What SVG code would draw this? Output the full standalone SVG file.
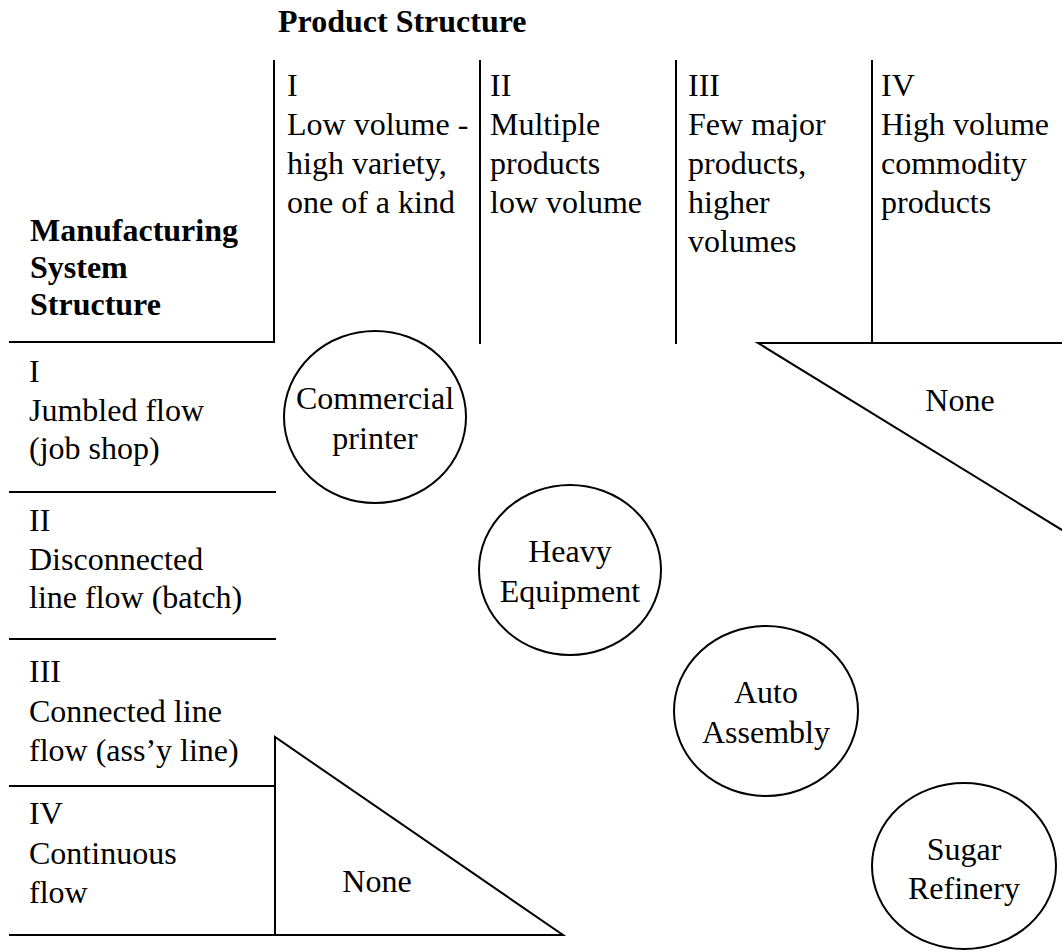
<svg xmlns="http://www.w3.org/2000/svg" width="1062" height="951" viewBox="0 0 1062 951">
<style>
  .t { font-family: "Liberation Serif", "Times New Roman", serif; font-size: 32px; fill: #000; }
  .b { font-weight: bold; }
  .c { text-anchor: middle; }
  .ln { stroke: #000; stroke-width: 2; fill: none; stroke-linecap: square; }
  .node { stroke: #000; stroke-width: 2; fill: #fff; }
</style>
<rect width="1062" height="951" fill="#fff"/>

<g id="connectors">
  <!-- column separators -->
  <line class="ln" x1="274" y1="61" x2="274" y2="342"/>
  <line class="ln" x1="480" y1="61" x2="480" y2="343"/>
  <line class="ln" x1="676" y1="61" x2="676" y2="343"/>
  <line class="ln" x1="872" y1="61" x2="872" y2="343"/>
  <!-- header underline -->
  <line class="ln" x1="10" y1="342" x2="274" y2="342"/>
  <!-- row separators -->
  <line class="ln" x1="10" y1="492" x2="275" y2="492"/>
  <line class="ln" x1="10" y1="639" x2="275" y2="639"/>
  <line class="ln" x1="10" y1="786" x2="275" y2="786"/>
  <line class="ln" x1="10" y1="935" x2="275" y2="935"/>
</g>

<g id="title">
  <text class="t b" x="278" y="32">Product Structure</text>
</g>

<g id="mss-header">
  <text class="t b" x="30" y="241">Manufacturing</text>
  <text class="t b" x="30" y="278">System</text>
  <text class="t b" x="30" y="315">Structure</text>
</g>

<g id="col-1">
  <text class="t" x="287" y="96">I</text>
  <text class="t" x="287" y="135">Low volume -</text>
  <text class="t" x="287" y="174">high variety,</text>
  <text class="t" x="287" y="213">one of a kind</text>
</g>
<g id="col-2">
  <text class="t" x="490" y="96">II</text>
  <text class="t" x="490" y="135">Multiple</text>
  <text class="t" x="490" y="174">products</text>
  <text class="t" x="490" y="213">low volume</text>
</g>
<g id="col-3">
  <text class="t" x="688" y="96">III</text>
  <text class="t" x="688" y="135">Few major</text>
  <text class="t" x="688" y="174">products,</text>
  <text class="t" x="688" y="213">higher</text>
  <text class="t" x="688" y="252">volumes</text>
</g>
<g id="col-4">
  <text class="t" x="881" y="96">IV</text>
  <text class="t" x="881" y="135">High volume</text>
  <text class="t" x="881" y="174">commodity</text>
  <text class="t" x="881" y="213">products</text>
</g>

<g id="row-1">
  <text class="t" x="29" y="382">I</text>
  <text class="t" x="29" y="421">Jumbled flow</text>
  <text class="t" x="29" y="459">(job shop)</text>
</g>
<g id="row-2">
  <text class="t" x="29" y="531">II</text>
  <text class="t" x="29" y="570">Disconnected</text>
  <text class="t" x="29" y="608">line flow (batch)</text>
</g>
<g id="row-3">
  <text class="t" x="29" y="682">III</text>
  <text class="t" x="29" y="722">Connected line</text>
  <text class="t" x="29" y="761">flow (ass’y line)</text>
</g>
<g id="row-4">
  <text class="t" x="29" y="824">IV</text>
  <text class="t" x="29" y="864">Continuous</text>
  <text class="t" x="29" y="903">flow</text>
</g>

<g id="none-top">
  <path class="ln" d="M1062,343 L758,343 L1062,530" stroke-linejoin="miter"/>
  <text class="t c" x="960" y="411">None</text>
</g>
<g id="none-bottom">
  <path class="ln" d="M275,935 L275,737 L563,935 Z" stroke-linejoin="miter"/>
  <line class="ln" x1="275" y1="935" x2="563" y2="935"/>
  <text class="t c" x="377" y="892">None</text>
</g>

<g id="commercial-printer">
  <ellipse class="node" cx="375" cy="417" rx="91" ry="86"/>
  <text class="t c" x="375" y="409">Commercial</text>
  <text class="t c" x="375" y="449">printer</text>
</g>
<g id="heavy-equipment">
  <ellipse class="node" cx="570" cy="570" rx="91" ry="85"/>
  <text class="t c" x="570" y="562">Heavy</text>
  <text class="t c" x="570" y="602">Equipment</text>
</g>
<g id="auto-assembly">
  <ellipse class="node" cx="766" cy="711" rx="92" ry="85"/>
  <text class="t c" x="766" y="703">Auto</text>
  <text class="t c" x="766" y="743">Assembly</text>
</g>
<g id="sugar-refinery">
  <ellipse class="node" cx="964" cy="866" rx="92" ry="83"/>
  <text class="t c" x="964" y="860">Sugar</text>
  <text class="t c" x="964" y="899">Refinery</text>
</g>
</svg>
